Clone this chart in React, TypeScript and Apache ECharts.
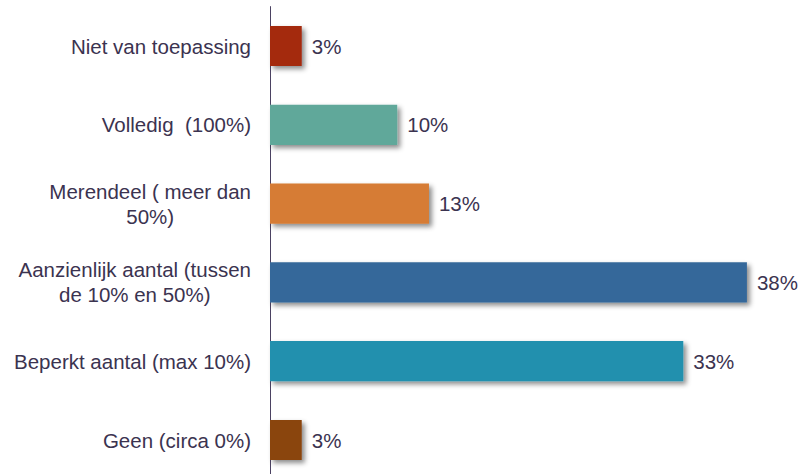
import React, { useEffect, useRef } from "react";
import * as echarts from "echarts";

const categories = [
  "Niet van toepassing",
  "Volledig  (100%)",
  "Merendeel ( meer dan\n50%)",
  "Aanzienlijk aantal (tussen\nde 10% en 50%)",
  "Beperkt aantal (max 10%)",
  "Geen (circa 0%)",
];
const values = [2.56, 10.26, 12.82, 38.46, 33.33, 2.56];
const colors = ["#a4290b", "#61a89a", "#d67c34", "#34689a", "#2190ae", "#8a4511"];

export default function App() {
  const ref = useRef<HTMLDivElement>(null);
  useEffect(() => {
    if (!ref.current) return;
    const chart = echarts.init(ref.current, null, { renderer: "svg" });
    const textColor = "#3b3350";
    const font = "Liberation Sans, Arial, sans-serif";
    chart.setOption({
      animation: false,
      grid: { left: 270, right: 34, top: 6.6, height: 472.8, containLabel: false },
      xAxis: {
        type: "value",
        min: 0,
        max: 40,
        show: false,
      },
      yAxis: {
        type: "category",
        data: categories,
        inverse: true,
        axisLine: { show: true, lineStyle: { color: "#4b4262", width: 1 } },
        axisTick: { show: false },
        axisLabel: {
          color: textColor,
          fontSize: 20.5,
          fontFamily: font,
          margin: 19,
          lineHeight: 25,
          align: "right",
          formatter: (v: string) =>
            v
              .split("\n")
              .map((l) => `{c|${l}}`)
              .join("\n"),
          rich: {
            c: {
              align: "center",
              color: textColor,
              fontSize: 20.5,
              fontFamily: font,
              lineHeight: 25,
            },
          },
        },
      },
      series: [
        {
          type: "bar",
          barWidth: "51%",
          data: values.map((v, i) => ({
            value: v,
            itemStyle: {
              color: colors[i],
              shadowColor: "rgba(0,0,0,0.45)",
              shadowBlur: 5,
              shadowOffsetX: 3,
              shadowOffsetY: 3,
            },
          })),
          label: {
            show: true,
            position: "right",
            distance: 10,
            formatter: (p: any) => `${Math.round(p.value)}%`,
            color: textColor,
            fontSize: 20.5,
            fontFamily: font,
          },
        },
      ],
    });
    return () => chart.dispose();
  }, []);
  return (
    <div style={{ position: "fixed", left: 0, top: 0, width: 800, height: 474, overflow: "hidden" }}>
      <div ref={ref} style={{ width: 800, height: 490, background: "#fff" }} />
    </div>
  );
}
